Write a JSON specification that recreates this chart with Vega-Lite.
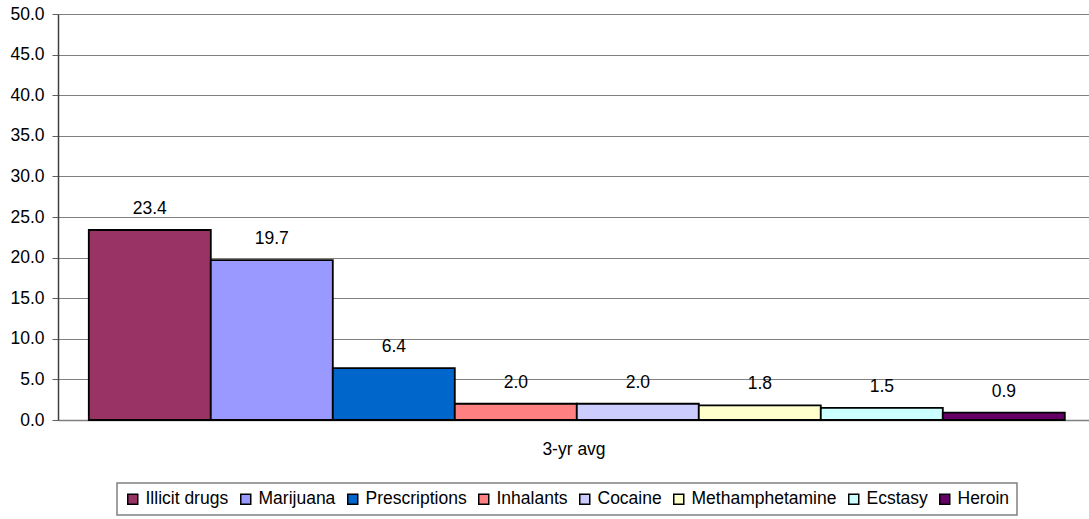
{
  "$schema": "https://vega.github.io/schema/vega-lite/v6.json",
  "width": 1031,
  "height": 406,
  "autosize": {"type": "none"},
  "padding": {"left": 58, "top": 14, "right": 0, "bottom": 99},
  "background": "white",
  "config": {
    "view": {"stroke": null},
    "font": "Liberation Sans",
    "axis": {"labelFont": "Liberation Sans", "titleFont": "Liberation Sans"}
  },
  "data": {
    "values": [
      {"drug": "Illicit drugs", "value": 23.4},
      {"drug": "Marijuana", "value": 19.7},
      {"drug": "Prescriptions", "value": 6.4},
      {"drug": "Inhalants", "value": 2.0},
      {"drug": "Cocaine", "value": 2.0},
      {"drug": "Methamphetamine", "value": 1.8},
      {"drug": "Ecstasy", "value": 1.5},
      {"drug": "Heroin", "value": 0.9}
    ]
  },
  "encoding": {
    "x": {
      "field": "drug",
      "type": "nominal",
      "sort": null,
      "scale": {"paddingInner": 0, "paddingOuter": 0.2254, "align": 0.56},
      "axis": {
        "labels": false,
        "ticks": false,
        "title": "3-yr avg",
        "titleFontWeight": "normal",
        "titleFontSize": 17.5,
        "titleColor": "black",
        "titlePadding": 20,
        "domainColor": "#808080",
        "domainWidth": 1.5
      }
    },
    "y": {
      "field": "value",
      "type": "quantitative",
      "scale": {"domain": [0, 50], "nice": false},
      "axis": {
        "values": [0, 5, 10, 15, 20, 25, 30, 35, 40, 45, 50],
        "format": ".1f",
        "title": null,
        "labelFontSize": 17.5,
        "labelColor": "black",
        "labelPadding": 8,
        "tickSize": 6,
        "tickColor": "#606060",
        "domainColor": "#404040",
        "domainWidth": 1.5,
        "gridColor": "#808080",
        "gridWidth": 1.2
      }
    }
  },
  "layer": [
    {
      "mark": {"type": "bar", "stroke": "black", "strokeWidth": 1.8},
      "encoding": {
        "color": {
          "field": "drug",
          "type": "nominal",
          "scale": {
            "domain": ["Illicit drugs", "Marijuana", "Prescriptions", "Inhalants", "Cocaine", "Methamphetamine", "Ecstasy", "Heroin"],
            "range": ["#993366", "#9999FF", "#0066CC", "#FF8080", "#CCCCFF", "#FFFFCC", "#CCFFFF", "#660066"]
          },
          "legend": {
            "title": null,
            "orient": "none",
            "legendX": 59,
            "legendY": 469,
            "direction": "horizontal",
            "columns": 8,
            "symbolType": "square",
            "symbolSize": 100,
            "symbolStrokeColor": "black",
            "symbolStrokeWidth": 1.5,
            "symbolOpacity": 1,
            "labelFontSize": 17.5,
            "labelColor": "black",
            "labelOffset": 4,
            "columnPadding": 8,
            "padding": 7,
            "strokeColor": "#808080",
            "fillColor": "white",
            "encode": {"legend": {"update": {"strokeWidth": {"value": 1.5}}}}
          }
        }
      }
    },
    {
      "mark": {"type": "text", "dy": -21, "fontSize": 17.5, "color": "black"},
      "encoding": {
        "text": {"field": "value", "type": "quantitative", "format": ".1f"}
      }
    }
  ]
}
